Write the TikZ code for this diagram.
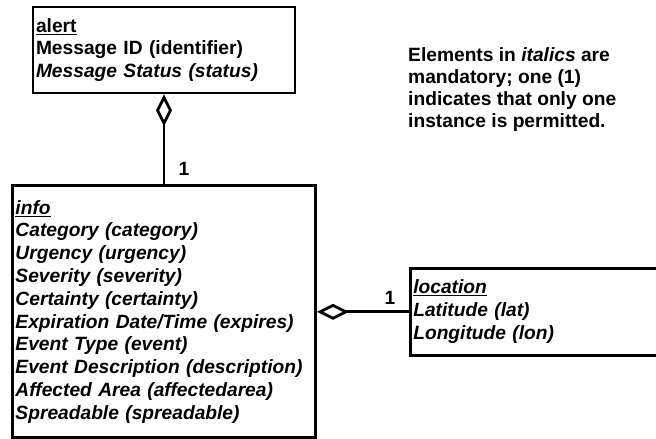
\documentclass[tikz,border=0pt]{standalone}
\usepackage{fontspec}
\setmainfont{Liberation Sans}
\usetikzlibrary{positioning}
\usetikzlibrary{arrows.meta}

\begin{document}
\begin{tikzpicture}[x=1pt, y=-1pt, classbox/.style={rectangle, draw=black, line width=2.8pt, align=left, inner xsep=3pt, inner ysep=0pt, font=\fontsize{19.2}{22.8}\selectfont\bfseries}, notenode/.style={draw=none, align=left, inner sep=0pt, anchor=north west, font=\fontsize{19.2}{22}\selectfont\bfseries}, multnode/.style={draw=none, inner sep=0pt, font=\fontsize{19.2}{22.8}\selectfont\bfseries}, aggregation/.style={{Diamond[open, length=32pt, width=16pt]}-, line width=2.8pt}]

    \useasboundingbox (0,0) rectangle (656,439);
    \clip (0,0) rectangle (656,439);

    %Nodes
    \node[classbox, text width=256pt, minimum height=86pt](alert) at (164,50){\underline{alert}\\Message ID (identifier)\\\textit{Message Status (status)}};
    \node[classbox, text width=297pt, minimum height=252pt](info)[below=90pt of alert]{\itshape\underline{info}\\Category (category)\\Urgency (urgency)\\Severity (severity)\\Certainty (certainty)\\Expiration Date/Time (expires)\\Event Type (event)\\Event Description (description)\\Affected Area (affectedarea)\\Spreadable (spreadable)};
    \node[classbox, text width=259pt, minimum height=87pt](location)[right=92pt of info]{\itshape\underline{location}\\Latitude (lat)\\Longitude (lon)};
    \node[notenode](note) at (408,47){Elements in \textit{italics} are\\mandatory; one (1)\\indicates that only one\\instance is permitted.};
    \node[multnode](infoone) at (184,169){1};
    \node[multnode](locationone) at (390,298){1};

    %Lines
    \draw[aggregation] (alert.south) -- (info.north);
    \draw[aggregation] (info.east) -- (location.west);

\end{tikzpicture}
\end{document}
